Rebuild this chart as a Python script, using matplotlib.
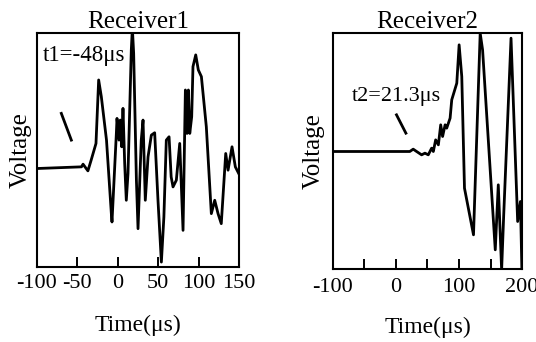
import matplotlib.pyplot as plt

plt.rcParams['font.family'] = ['Liberation Serif', 'DejaVu Serif']
plt.rcParams['axes.unicode_minus'] = False

# Receiver1 waveform (time in us, voltage in arbitrary units, baseline 0)
t1 = [-100, -45, -43, -37, -33, -27, -23.7, -20.4, -14, -8, -7.2, -1.8, -1,
      1.5, 3.1, 4.8, 6.4, 8.5, 10.5, 12.6, 16.7, 18, 19.6, 23, 25, 29, 31.2,
      34, 37.4, 41.5, 45.6, 49.7, 53.9, 57, 60, 63.4, 66, 68.3, 72.4, 76.6,
      80.7, 83.6, 85.6, 87.3, 89, 91.4, 93, 96.4, 99.6, 103.4, 109.5, 115.7,
      119.9, 124, 128, 133.5, 136.4, 141.3, 145.4, 149.6]
v1 = [0, 0.05, 0.13, -0.07, 0.25, 0.75, 2.65, 2.15, 0.85, -1.35, -1.6, 1.05,
      1.5, 0.85, 1.45, 0.65, 1.8, 0.15, -0.95, -0.15, 3.55, 4.2, 3.45, -0.35,
      -1.8, 0.85, 1.45, -0.95, 0.35, 1.0, 1.07, -0.95, -2.8, -1.45, 0.85, 0.95,
      -0.25, -0.55, -0.35, 0.75, -1.85, 2.35, 1.05, 2.35, 1.05, 1.55, 3.05,
      3.4, 2.95, 2.75, 1.25, -1.35, -0.95, -1.35, -1.65, 0.45, -0.05, 0.65,
      0.05, -0.15]

# Receiver2 waveform
t2 = [-100, 22, 27.4, 32.8, 40.7, 46, 51.3, 56.6, 59.3, 63, 67.3, 71, 74, 78,
      80.5, 85.9, 88.5, 96.5, 100.2, 104.4, 108.7, 123, 133.6, 137.4, 157.5,
      162.3, 167.6, 170.8, 182.5, 193, 197.4, 200]
v2 = [0, 0, 0.07, 0, -0.1, -0.05, -0.1, 0.1, 0, 0.35, 0.2, 0.8, 0.45, 0.8,
      0.7, 1.0, 1.55, 2.05, 3.2, 2.25, -1.1, -2.5, 3.55, 3.05, -2.95, -1.0,
      -3.55, -1.95, 3.4, -2.1, -1.5, -3.8]

# pointer marks next to the arrival-time labels
mark1_t = [-69.9, -57.5]
mark1_v = [1.65, 0.85]
mark2_t = [0.9, 15.8]
mark2_v = [1.1, 0.55]

fig = plt.figure(figsize=(5.36, 3.42), dpi=100)
ax1 = fig.add_axes([0.069, 0.219, 0.377, 0.684])
ax2 = fig.add_axes([0.621, 0.213, 0.353, 0.690])

lw = 2.0
ax1.plot(t1, v1, color='black', lw=lw)
ax1.plot(mark1_t, mark1_v, color='black', lw=lw)
ax1.set_xlim(-100, 150)
ax1.set_ylim(-2.95, 4.05)
ax1.set_xticks([-100, -50, 0, 50, 100, 150])
ax1.set_yticks([])
ax1.set_title('Receiver1', fontsize=18, pad=3)
ax1.set_xlabel('Time(\u03bcs)', fontsize=17, labelpad=16)
ax1.set_ylabel('Voltage', fontsize=18, labelpad=4)
ax1.text(0.03, 0.905, 't1=-48\u03bcs', transform=ax1.transAxes,
         fontsize=16.5, va='center', ha='left')
ax1.tick_params(axis='x', pad=5)

ax2.plot(t2, v2, color='black', lw=lw)
ax2.plot(mark2_t, mark2_v, color='black', lw=lw)
ax2.set_xlim(-100, 200)
ax2.set_ylim(-3.53, 3.55)
ax2.set_xticks([-100, 0, 100, 200])
ax2.set_xticks([-50, 50, 150], minor=True)
ax2.set_yticks([])
ax2.set_title('Receiver2', fontsize=18, pad=3)
ax2.set_xlabel('Time(\u03bcs)', fontsize=17, labelpad=14)
ax2.set_ylabel('Voltage', fontsize=18, labelpad=6)
ax2.text(0.10, 0.73, 't2=21.3\u03bcs', transform=ax2.transAxes,
         fontsize=16, va='center', ha='left')
ax2.tick_params(axis='x', pad=6.5)

for ax in (ax1, ax2):
    for s in ax.spines.values():
        s.set_linewidth(1.5)
    ax.tick_params(axis='x', which='both', direction='in', length=7,
                   width=1.4, labelsize=16)

plt.savefig('out.png', dpi=100)
